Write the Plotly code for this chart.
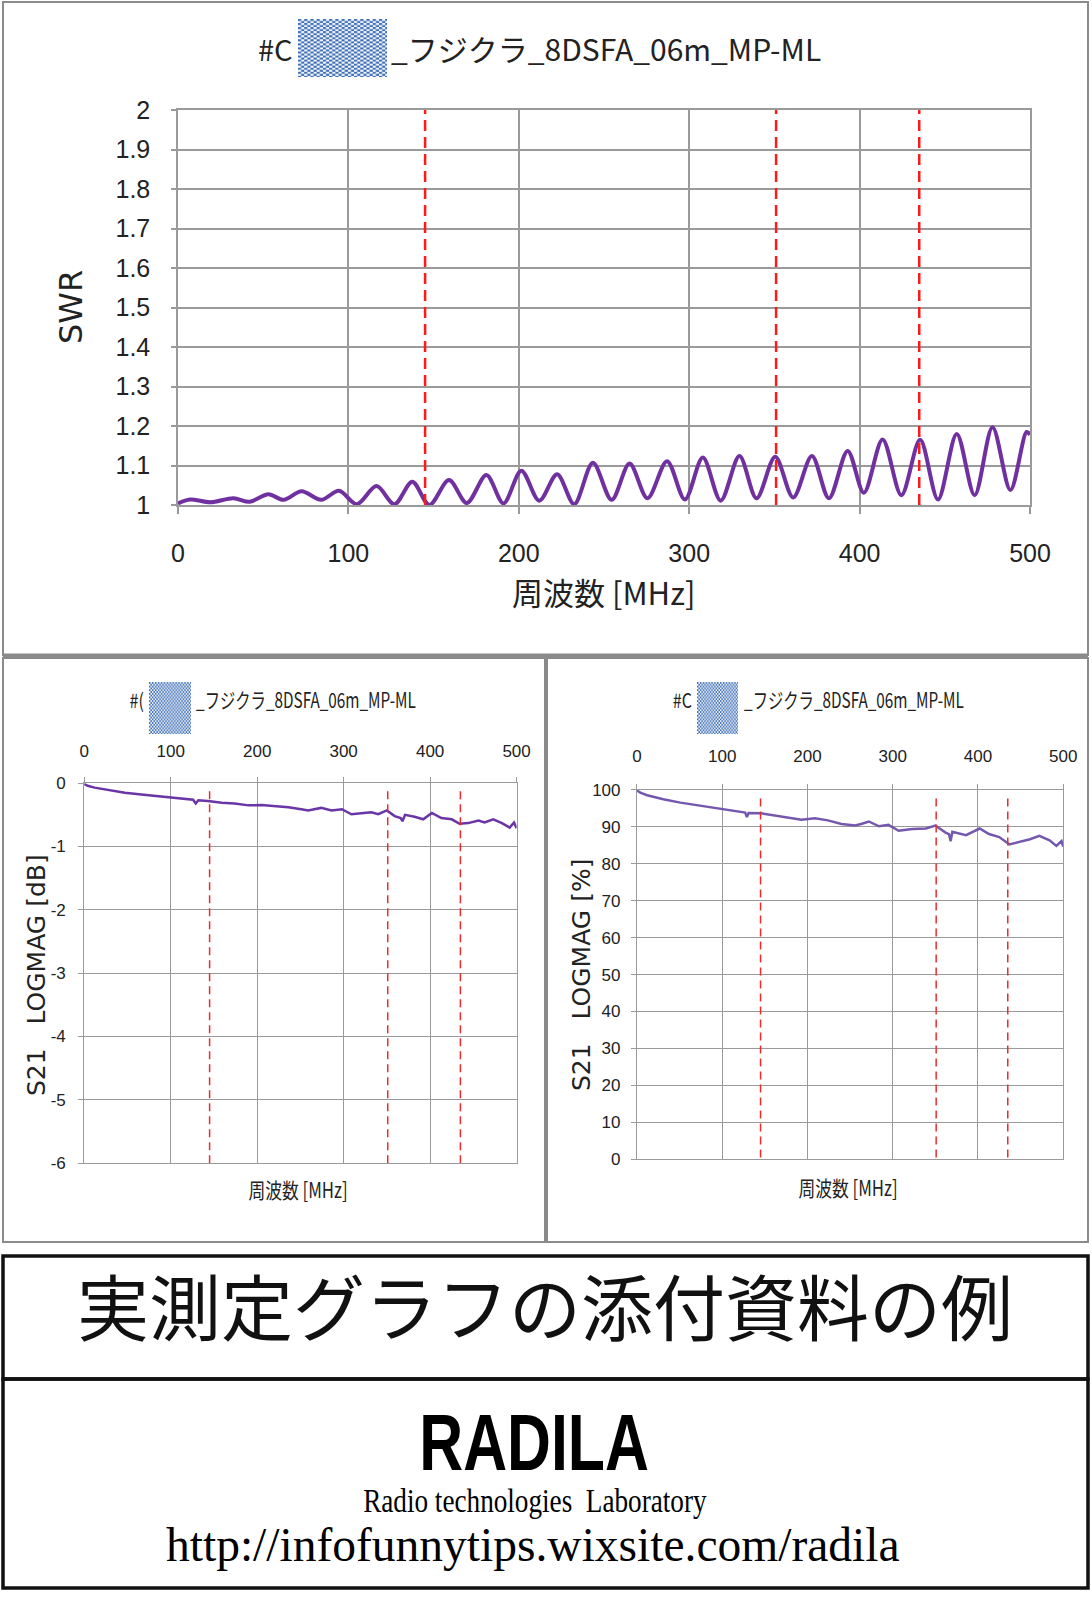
import base64
import plotly.graph_objects as go

# ---------------- data ----------------
# SWR (top chart): local peaks / troughs
swr_freq = [0, 7, 19, 32.5, 42, 53, 62, 72.5, 84, 94.5, 105, 116.5, 127, 137.5, 147.5,
            159, 169.5, 181, 191, 201.5, 212, 222.5, 232.5, 243.5, 254.5, 265, 275.5,
            287, 297.5, 308, 318.5, 329.5, 339.5, 350.5, 361, 372, 382, 393, 402.5,
            413.5, 424.5, 435.5, 446, 457, 467.5, 478, 488.5, 498, 500]
swr_val = [1.004, 1.014, 1.007, 1.017, 1.008, 1.027, 1.013, 1.035, 1.013, 1.036, 1.002,
           1.048, 1.002, 1.059, 1.0, 1.063, 1.005, 1.076, 1.004, 1.087, 1.011, 1.078,
           1.002, 1.107, 1.013, 1.105, 1.017, 1.111, 1.014, 1.12, 1.011, 1.124, 1.017,
           1.122, 1.019, 1.124, 1.017, 1.137, 1.031, 1.166, 1.025, 1.165, 1.014, 1.18,
           1.025, 1.197, 1.038, 1.185, 1.178]

# S21 LOGMAG [dB] (bottom-left)
db_freq = [0, 4, 12, 28, 47, 66, 86, 100, 116, 126, 129, 132, 143, 159, 174, 190, 205,
           220, 236, 251, 259, 266, 274, 286, 298, 309, 321, 332, 340, 350, 359, 366,
           368, 371, 382, 392, 402, 413, 425, 434, 444, 456, 463, 473, 483, 492, 497, 500]
db_val = [-0.01, -0.04, -0.07, -0.11, -0.15, -0.18, -0.21, -0.23, -0.25, -0.26, -0.32,
          -0.27, -0.28, -0.31, -0.32, -0.35, -0.345, -0.36, -0.38, -0.41, -0.43, -0.41,
          -0.39, -0.43, -0.41, -0.49, -0.47, -0.46, -0.49, -0.43, -0.52, -0.55, -0.60,
          -0.50, -0.53, -0.57, -0.47, -0.55, -0.57, -0.64, -0.63, -0.59, -0.62, -0.57,
          -0.63, -0.70, -0.62, -0.71]

# S21 LOGMAG [%] (bottom-right)
pct_freq = [0, 4, 12, 31, 51, 71, 91, 106, 122, 127, 129, 131, 146, 161, 177, 193, 209,
            224, 240, 256, 264, 272, 284, 295, 307, 323, 339, 350, 362, 366, 368, 370,
            386, 402, 413, 425, 437, 449, 461, 472, 484, 492, 498, 500]
pct_val = [99.8, 99.2, 98.5, 97.4, 96.5, 95.8, 95.1, 94.4, 93.9, 93.8, 92.6, 93.7, 93.6,
           93.0, 92.4, 91.9, 92.3, 91.7, 90.7, 90.3, 90.8, 91.4, 90.1, 90.5, 88.9, 89.4,
           89.5, 90.3, 88.4, 88.0, 86.1, 88.6, 87.7, 89.5, 88.0, 87.2, 85.2, 85.9, 86.6,
           87.5, 86.3, 84.8, 86.1, 84.6]

# band marker frequencies (red dashed lines)
marker_freqs = [145, 351, 435]

x_ticks = [0, 100, 200, 300, 400, 500]
db_ticks = [0, -1, -2, -3, -4, -5, -6]
db_tick_labels = ["0", "-1", "-2", "-3", "-4", "-5", "-6"]
title_text = "_フジクラ_8DSFA_06m_MP-ML"
x_title = "周波数 [MHz]"

# ---------------- helpers ----------------
W, H = 1092, 1600


def X(px):
    return px / W


def Y(py):
    return 1 - py / H


SANS = "Liberation Sans, Arial, Noto Sans CJK JP, sans-serif"
JP = "Noto Sans CJK JP, sans-serif"
GRID = "#9a9a9a"
PURPLE = "#7030A0"

fig = go.Figure()

fig.add_trace(go.Scatter(x=swr_freq, y=swr_val, mode="lines",
                         line=dict(color=PURPLE, width=4, shape="spline", smoothing=0.9),
                         xaxis="x", yaxis="y", showlegend=False, hoverinfo="skip"))
fig.add_trace(go.Scatter(x=db_freq, y=db_val, mode="lines",
                         line=dict(color="#6a35a6", width=2.5),
                         xaxis="x2", yaxis="y2", showlegend=False))
fig.add_trace(go.Scatter(x=pct_freq, y=pct_val, mode="lines",
                         line=dict(color="#7458ae", width=2.5),
                         xaxis="x3", yaxis="y3", showlegend=False))

# red dashed band markers
for f in marker_freqs:
    fig.add_shape(type="line", xref="x", yref="y", x0=f, x1=f, y0=1, y1=2,
                  line=dict(color="#ff1a1a", width=2.5, dash="11px,6px"))
    fig.add_shape(type="line", xref="x2", yref="y2", x0=f, x1=f, y0=-6, y1=-0.06,
                  line=dict(color="#ee2a2a", width=1.5, dash="8px,5px"))
    fig.add_shape(type="line", xref="x3", yref="y3", x0=f, x1=f, y0=0.5, y1=98.5,
                  line=dict(color="#ee2a2a", width=1.5, dash="8px,5px"))


def xaxis(domain, anchor, side, fsize, ticklen, standoff, gw):
    return dict(domain=domain, anchor=anchor, range=[0, 500], tickvals=x_ticks,
                side=side, showgrid=True, gridcolor=GRID, gridwidth=gw,
                showline=True, mirror=True, linecolor=GRID, linewidth=gw,
                ticks="outside", ticklen=ticklen, tickcolor=GRID, tickwidth=gw,
                ticklabelstandoff=standoff, zeroline=False, automargin=False,
                tickfont=dict(family=SANS, size=fsize, color="#222"))


def yaxis(domain, anchor, rng, dtick, fsize, standoff, gw):
    return dict(domain=domain, anchor=anchor, range=rng, dtick=dtick,
                showgrid=True, gridcolor=GRID, gridwidth=gw,
                showline=True, mirror=True, linecolor=GRID, linewidth=gw,
                ticks="outside", ticklen=5, tickcolor=GRID, tickwidth=gw,
                ticklabelstandoff=standoff, zeroline=False, automargin=False,
                tickfont=dict(family=SANS, size=fsize, color="#222"))


y2 = yaxis([Y(1163.2), Y(783.2)], "x2", [-6, 0], 1, 17, 9, 1)
y2.pop("dtick")
y2.update(tickvals=db_ticks, ticktext=db_tick_labels)

fig.update_layout(
    width=W, height=H, margin=dict(l=0, r=0, t=0, b=0, pad=0, autoexpand=False),
    paper_bgcolor="white", plot_bgcolor="white", showlegend=False,
    xaxis=xaxis([X(178), X(1030)], "y", "bottom", 25, 7, 18, 1.5),
    yaxis=yaxis([Y(505), Y(110)], "x", [1, 2], 0.1, 25, 16, 1.5),
    xaxis2=xaxis([X(84.2), X(516.6)], "y2", "top", 17, 5, 13, 1),
    yaxis2=y2,
    xaxis3=xaxis([X(636.9), X(1063.2)], "y3", "top", 17, 5, 15, 1),
    yaxis3=yaxis([Y(1159.4), Y(789.7)], "x3", [0, 100], 10, 17, 7, 1),
)

# ---------------- panel frames ----------------
frames = [
    (3, 2, 1088, 655, "#8a8a8a", 2),
    (3, 658, 545, 1242, "#8a8a8a", 2),
    (547, 658, 1088, 1242, "#8a8a8a", 2),
    (3, 1256, 1088, 1379, "#111", 3.5),
    (3, 1379, 1088, 1588, "#111", 3.5),
]
for x0, y0, x1, y1, c, w in frames:
    fig.add_shape(type="rect", xref="paper", yref="paper", x0=X(x0), x1=X(x1),
                  y0=Y(y1), y1=Y(y0), line=dict(color=c, width=w), layer="below")
fig.add_shape(type="line", xref="paper", yref="paper", x0=X(3), x1=X(1088),
              y0=Y(655.5), y1=Y(655.5), line=dict(color="#8a8a8a", width=4))

# ---------------- checkered redaction boxes ----------------
sq = 3.5
svg = ("<svg xmlns='http://www.w3.org/2000/svg' width='100' height='100'>"
       "<defs><pattern id='p' width='%s' height='%s' patternUnits='userSpaceOnUse'>"
       "<rect width='%s' height='%s' fill='#f4f7fc'/>"
       "<rect width='%s' height='%s' fill='#3d6db5'/>"
       "<rect x='%s' y='%s' width='%s' height='%s' fill='#3d6db5'/></pattern></defs>"
       "<rect width='100' height='100' fill='url(#p)'/></svg>") % (
    2 * sq, 2 * sq, 2 * sq, 2 * sq, sq, sq, sq, sq, sq, sq)
src = "data:image/svg+xml;base64," + base64.b64encode(svg.encode()).decode()
for bx0, by0, bx1, by1 in [(298, 19, 387, 77), (149, 682, 191, 734), (697, 682, 738, 734)]:
    fig.add_layout_image(source=src, xref="paper", yref="paper", x=X(bx0), y=Y(by0),
                         sizex=X(bx1) - X(bx0), sizey=(by1 - by0) / H,
                         xanchor="left", yanchor="top", sizing="stretch", layer="above")

# ---------------- texts ----------------
squeeze = {}  # annotation index -> (horizontal scale, origin)


def txt(x, y, s, size, family=JP, xanchor="center", angle=0, color="#222",
        scale=None):
    fig.add_annotation(x=X(x), y=Y(y), xref="paper", yref="paper", text=s,
                       showarrow=False, xanchor=xanchor, yanchor="middle",
                       textangle=angle, font=dict(family=family, size=size, color=color))
    if scale is not None:
        origin = {"left": "0% 50%", "right": "100% 50%", "center": "50% 50%"}[xanchor]
        squeeze[len(fig.layout.annotations) - 1] = (scale, origin)


NB = "\u00a0"
# top chart
txt(295, 48, "#C", 29, xanchor="right")
txt(389, 48, title_text, 30, xanchor="left")
txt(71, 307, "SWR", 32, family="DejaVu Sans, sans-serif", angle=-90)
txt(603, 591, x_title, 31)

# bottom-left
txt(146, 699, "#(", 20, family=JP, xanchor="right", scale=0.8)
txt(194, 699, title_text, 21, family=JP, xanchor="left", scale=0.73)
txt(36, 975, "S21" + NB * 3 + "LOGMAG [dB]", 25, family="DejaVu Sans, sans-serif", angle=-90)
txt(298, 1189, x_title, 21, family=JP, scale=0.8)

# bottom-right
txt(694, 699, "#C", 20, family=JP, xanchor="right", scale=0.8)
txt(742, 699, title_text, 21, family=JP, xanchor="left", scale=0.73)
txt(581, 975, "S21" + NB * 3 + "LOGMAG [%]", 25, family="DejaVu Sans, sans-serif", angle=-90)
txt(848, 1187, x_title, 21, family=JP, scale=0.8)

# bottom boxes
txt(545, 1303, "実測定グラフの添付資料の例", 72, color="#111")
txt(534, 1442, "<b>RADILA</b>", 80, family="Liberation Sans, Arial, sans-serif",
    color="#000", scale=0.76)
txt(535, 1500, "Radio technologies" + NB * 2 + "Laboratory", 34,
    family="Liberation Serif, DejaVu Serif, serif", color="#000", scale=0.8)
txt(533, 1545, "http://infofunnytips.wixsite.com/radila", 47.5,
    family="Liberation Serif, DejaVu Serif, serif", color="#000")

css = "".join(
    '.annotation[data-index="%d"] text.annotation-text{transform:scaleX(%s);'
    'transform-box:fill-box;transform-origin:%s;}' % (i, s, o)
    for i, (s, o) in squeeze.items())

post = ("var st=document.createElement('style');st.textContent='%s';"
        "document.head.appendChild(st);"
        "document.body.style.margin='0';"
        "document.documentElement.style.overflow='hidden';") % css

fig.write_html("out.html", post_script=post, config={"displayModeBar": False})
